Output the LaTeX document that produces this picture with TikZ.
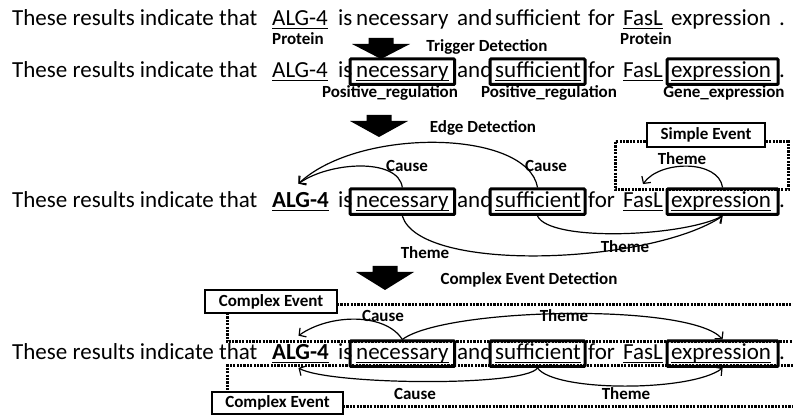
\documentclass[tikz,border=0pt]{standalone}
\usepackage{fontspec}
\setmainfont{Carlito}
\usetikzlibrary{arrows.meta,fit}

\newcommand{\sentfont}{\fontsize{23}{27}\selectfont}
\newcommand{\labfont}{\fontsize{17}{20}\selectfont\bfseries}

% one sentence row: #1 tag, #2 baseline, #3 style of the ALG-4 word
\newcommand{\sentrow}[3]{%
  \node[word] (w#1)   at (12,#2)  {These results indicate that};
  \node[#3]   (alg#1) at (272,#2) {ALG-4};
  \node[word] (is#1)  at (338,#2) {is};
  \node[word] (nec#1) at (356,#2) {necessary};
  \node[word] (and#1) at (457,#2) {and};
  \node[word] (suf#1) at (495,#2) {sufficient};
  \node[word] (for#1) at (588,#2) {for};
  \node[word] (fas#1) at (623,#2) {FasL};
  \node[word] (exp#1) at (671,#2) {expression};
  \node[word] (dot#1) at (779,#2) {.};
}
% underline a word node
\newcommand{\uword}[1]{\draw[uline] ([yshift=-2.8pt]#1.base west) -- ([yshift=-2.8pt]#1.base east);}
% thick trigger box round a word: #1 name, #2 word node, #3 left pad, #4 right pad
\newcommand{\wbox}[4]{\node[tbox, fit={([xshift=-#3pt,yshift=19pt]#2.base west) ([xshift=#4pt,yshift=-6.5pt]#2.base east)}] (#1) {};}
% block arrow pointing down: #1 centre x, #2 top, #3 head base, #4 tip
\newcommand{\blockdown}[4]{\fill ({#1-12.5},#2) -- ({#1+12.5},#2) -- ({#1+12.5},#3) -- ({#1+29},#3) -- (#1,#4) -- ({#1-29},#3) -- ({#1-12.5},#3) -- cycle;}

\begin{document}
\begin{tikzpicture}[x=1pt,y=-1pt,
  word/.style={inner sep=0pt, anchor=base west, font=\sentfont},
  boldword/.style={word, font=\sentfont\bfseries},
  lab/.style={inner sep=0pt, anchor=base, font=\labfont},
  uline/.style={line width=1.2pt},
  tbox/.style={draw, line width=3pt, inner sep=0pt, rounded corners=1pt},
  evbox/.style={draw, line width=1.1pt, fill=white, font=\labfont, inner sep=0pt},
  dotline/.style={line width=3pt, dash pattern=on 2.2pt off 1.2pt},
  rel/.style={line width=1.2pt, -{Straight Barb[length=5pt,width=11pt]}},
]
\useasboundingbox (0,0) rectangle (793,419);

% ---------- stage 0: named entities ----------
\sentrow{A}{26}{word}
\uword{algA} \uword{fasA}
\node[lab] (protA) at (298,45) {Protein};
\node[lab] (protF) at (646,45) {Protein};

\blockdown{381}{38}{44}{59}
\node[lab] (trig) at (487,52) {Trigger Detection};

% ---------- stage 1: triggers ----------
\sentrow{B}{78}{word}
\uword{algB} \uword{necB} \uword{sufB} \uword{fasB} \uword{expB}
\wbox{bnecB}{necB}{6}{6}
\wbox{bsufB}{sufB}{5}{4}
\wbox{bexpB}{expB}{4}{7}
\node[lab] (posB1) at (390,98) {Positive\_regulation};
\node[lab] (posB2) at (549,98) {Positive\_regulation};
\node[lab] (geneB) at (724,98) {Gene\_expression};

\blockdown{379}{115}{121}{137}
\node[lab] (edge) at (483,133) {Edge Detection};

% ---------- stage 2: edges ----------
\draw[dotline] (615,142) rectangle (788,190);
\node[evbox, minimum width=118pt, minimum height=24pt] (simple) at (706,135) {Simple Event};

\sentrow{C}{208}{boldword}
\uword{algC} \uword{necC} \uword{sufC} \uword{fasC} \uword{expC}
\wbox{bnecC}{necC}{6}{6}
\wbox{bsufC}{sufC}{5}{4}
\wbox{bexpC}{expC}{4}{7}

\draw[rel] (bnecC.north) .. controls +(-4,-30) and +(31,-22) .. ([xshift=-2pt,yshift=9pt]algC.north);
\draw[rel] (bsufC.north) .. controls +(-10,-58) and +(61,-57) .. ([xshift=-2pt,yshift=9pt]algC.north);
\draw[rel] (bnecC.south) .. controls +(18,58) and +(-72,48) .. (bexpC.south);
\draw[rel] (bsufC.south) .. controls +(12,26) and +(-42,21) .. (bexpC.south);
\draw[rel] (bexpC.north) .. controls +(-4,-28) and +(17,-24) .. ([yshift=9pt]fasC.north);

\node[lab] (causeC1) at (407,172) {Cause};
\node[lab] (causeC2) at (546,172) {Cause};
\node[lab] (themeS)  at (682,165) {Theme};
\node[lab] (themeC1) at (425,259) {Theme};
\node[lab] (themeC2) at (625,253) {Theme};

\blockdown{385}{266}{272}{290}
\node[lab] (cplx) at (529,285) {Complex Event Detection};

% ---------- stage 3: complex events ----------
\draw[dotline] (337,305) -- (793,305);
\draw[dotline] (227,313) -- (227,342) -- (793,342);
\draw[dotline] (793,366) -- (227,366) -- (227,392);
\draw[dotline] (343,407) -- (793,407);
\node[evbox, minimum width=132pt, minimum height=23pt] (ceTop) at (271,301.5) {Complex Event};
\node[evbox, minimum width=131pt, minimum height=22pt] (ceBot) at (277.5,403) {Complex Event};

\sentrow{D}{360}{boldword}
\uword{algD} \uword{necD} \uword{sufD} \uword{fasD} \uword{expD}
\wbox{bnecD}{necD}{6}{6}
\wbox{bsufD}{sufD}{5}{4}
\wbox{bexpD}{expD}{4}{7}

\draw[rel] (bnecD.north) .. controls +(-17,-27) and +(31,-22) .. ([xshift=-2pt,yshift=9pt]algD.north);
\draw[rel] (bnecD.north) .. controls +(43,-32) and +(-32,-37) .. (bexpD.north);
\draw[rel] (bsufD.south) .. controls +(-13,19) and +(31,17) .. ([xshift=-2pt,yshift=-8pt]algD.base);
\draw[rel] (bsufD.south) .. controls +(17,24) and +(-32,24) .. (bexpD.south);

\node[lab] (causeD1) at (383,322) {Cause};
\node[lab] (themeD1) at (564,322) {Theme};
\node[lab] (causeD2) at (415,400) {Cause};
\node[lab] (themeD2) at (626,400) {Theme};
\end{tikzpicture}
\end{document}
